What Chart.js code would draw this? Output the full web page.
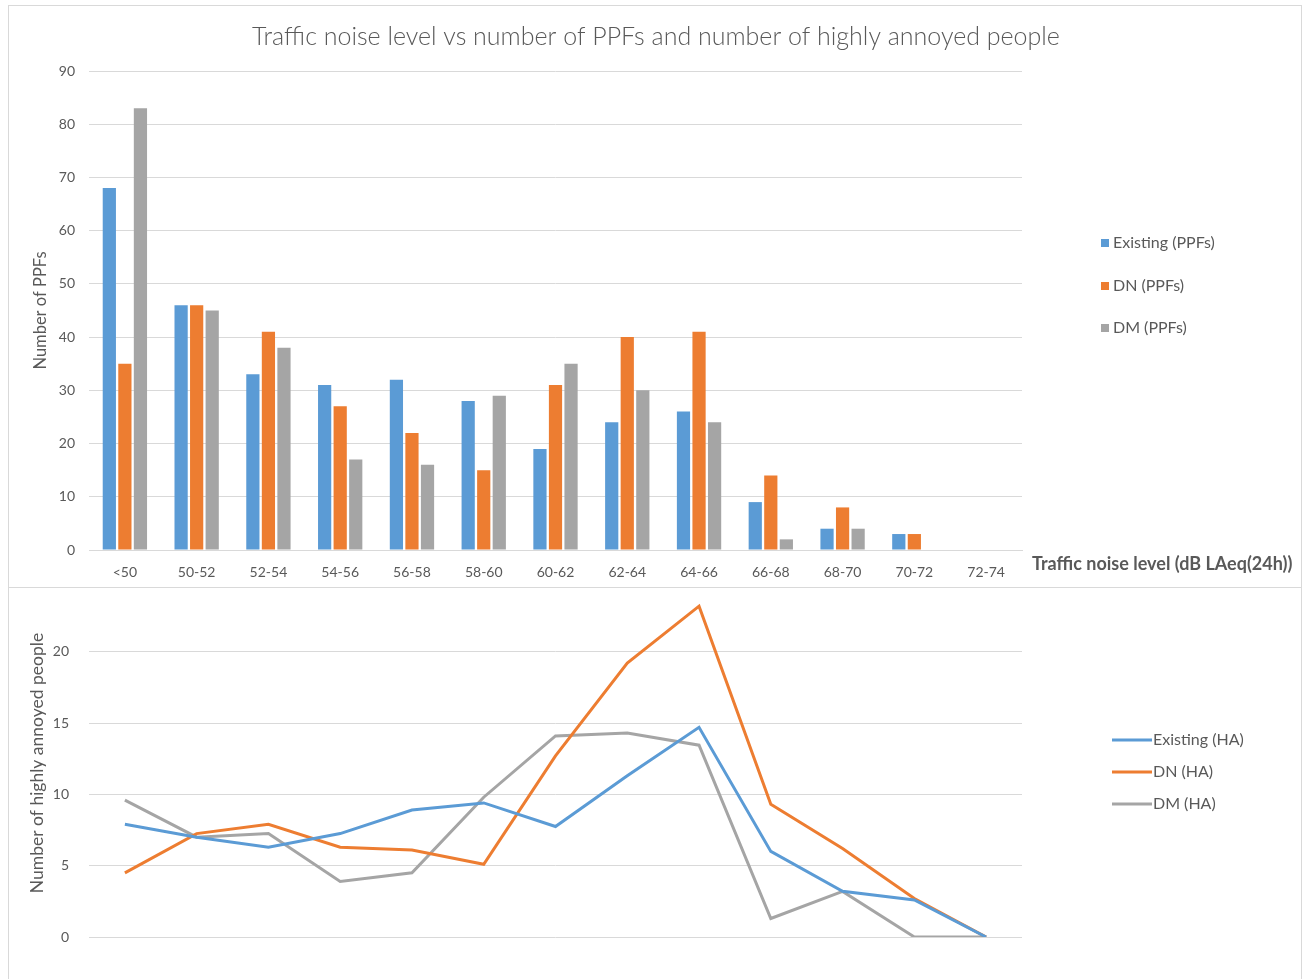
<!DOCTYPE html>
<html><head><meta charset="utf-8">
<script src="https://cdn.jsdelivr.net/npm/chart.js@4"></script>
<style>
html,body{margin:0;padding:0;background:#fff;}
body{width:1311px;height:979px;position:relative;overflow:hidden;font-family:Lato,sans-serif;}
#w1{position:absolute;left:0;top:0;width:1311px;height:586px;}
#w2{position:absolute;left:0;top:589px;width:1311px;height:390px;}
.fr{position:absolute;background:#d9d9d9;}
</style></head>
<body>
<div class="fr" style="left:8px;top:5px;width:1294px;height:1px;"></div>
<div class="fr" style="left:8px;top:5px;width:1px;height:974px;"></div>
<div class="fr" style="left:1301px;top:5px;width:1px;height:974px;"></div>
<div class="fr" style="left:8px;top:587px;width:1294px;height:1px;"></div>
<div id="w1"><canvas id="c1"></canvas></div>
<div id="w2"><canvas id="c2"></canvas></div>
<script>
const categories = ['<50','50-52','52-54','54-56','56-58','58-60','60-62','62-64','64-66','66-68','68-70','70-72','72-74'];
const existingPPF = [68,46,33,31,32,28,19,24,26,9,4,3,0];
const dnPPF       = [35,46,41,27,22,15,31,40,41,14,8,3,0];
const dmPPF       = [83,45,38,17,16,29,35,30,24,2,4,0,0];
const existingHA = [7.9,7.0,6.3,7.25,8.9,9.4,7.75,11.3,14.7,6.0,3.2,2.6,0];
const dnHA       = [4.5,7.25,7.9,6.3,6.1,5.1,12.7,19.2,23.2,9.3,6.2,2.7,0];
const dmHA       = [9.6,7.0,7.25,3.9,4.5,9.8,14.1,14.3,13.45,1.3,3.2,0,0];
const ppfTicks = [0,10,20,30,40,50,60,70,80,90];
const haTicks = [0,5,10,15,20];

const BLUE='#5B9BD5', ORANGE='#ED7D31', GRAY='#A5A5A5';
const TXT='#595959', GRID='#D9D9D9';
Chart.defaults.font.family = 'Lato, sans-serif';
Chart.defaults.color = TXT;

const topDecor = {
  id:'topDecor',
  afterDraw(chart){
    const ctx = chart.ctx;
    ctx.save();
    ctx.fillStyle = TXT;
    ctx.textAlign='center'; ctx.textBaseline='middle';
    ctx.font = '300 25px Lato, sans-serif';
    ctx.fillText('Traffic noise level vs number of PPFs and number of highly annoyed people', 656, 37);
    ctx.textAlign='left';
    ctx.font = 'bold 18px Lato, sans-serif';
    ctx.fillText('Traffic noise level (dB LAeq(24h))', 1032, 564);
    ctx.font = '16px Lato, sans-serif';
    const ys=[243,286,328];
    chart.data.datasets.forEach((d,i)=>{
      ctx.fillStyle=d.backgroundColor;
      ctx.fillRect(1101, ys[i]-4, 8, 8);
      ctx.fillStyle=TXT;
      ctx.fillText(d.label, 1113, ys[i]);
    });
    ctx.restore();
  }
};
const botDecor = {
  id:'botDecor',
  afterDraw(chart){
    const ctx = chart.ctx;
    ctx.save();
    ctx.font = '16px Lato, sans-serif';
    ctx.textAlign='left'; ctx.textBaseline='middle';
    const ys=[740-589,772-589,804-589];
    chart.data.datasets.forEach((d,i)=>{
      ctx.strokeStyle=d.borderColor; ctx.lineWidth=3;
      ctx.beginPath(); ctx.moveTo(1112, ys[i]); ctx.lineTo(1152, ys[i]); ctx.stroke();
      ctx.fillStyle=TXT;
      ctx.fillText(d.label, 1153, ys[i]);
    });
    ctx.restore();
  }
};

new Chart(document.getElementById('c1'), {
  type:'bar',
  data:{labels:categories, datasets:[
    {label:'Existing (PPFs)', data:existingPPF, backgroundColor:BLUE},
    {label:'DN (PPFs)', data:dnPPF, backgroundColor:ORANGE},
    {label:'DM (PPFs)', data:dmPPF, backgroundColor:GRAY}
  ]},
  options:{
    responsive:true, maintainAspectRatio:false, animation:false,
    datasets:{bar:{categoryPercentage:0.65, barPercentage:0.85}},
    layout:{padding:{left:0,right:289,top:71,bottom:0}},
    plugins:{legend:{display:false}, tooltip:{enabled:false}},
    scales:{
      x:{grid:{display:false}, border:{color:GRID},
         ticks:{font:{size:14}, padding:6, color:TXT, maxRotation:0, autoSkip:false},
         afterFit(s){s.height=36;}},
      y:{min:0,max:90, afterBuildTicks(s){s.ticks=ppfTicks.map(v=>({value:v}));},
         grid:{color:GRID, drawTicks:false}, border:{display:false},
         ticks:{font:{size:14}, padding:14, color:TXT},
         title:{display:true, text:'Number of PPFs', font:{size:16.5}, color:TXT, padding:{top:31,bottom:0}},
         afterFit(s){s.width=89;}}
    }
  },
  plugins:[topDecor]
});

new Chart(document.getElementById('c2'), {
  type:'line',
  data:{labels:categories, datasets:[
    {label:'Existing (HA)', data:existingHA, borderColor:BLUE, backgroundColor:BLUE},
    {label:'DN (HA)', data:dnHA, borderColor:ORANGE, backgroundColor:ORANGE},
    {label:'DM (HA)', data:dmHA, borderColor:GRAY, backgroundColor:GRAY}
  ]},
  options:{
    responsive:true, maintainAspectRatio:false, animation:false,
    elements:{line:{borderWidth:3, tension:0}, point:{radius:0}},
    layout:{padding:{left:0,right:289,top:0,bottom:0}},
    plugins:{legend:{display:false}, tooltip:{enabled:false}},
    scales:{
      x:{offset:true, grid:{display:false}, border:{display:false}, ticks:{display:false},
         afterFit(s){s.height=42;}},
      y:{min:0,max:24.4, afterBuildTicks(s){s.ticks=haTicks.map(v=>({value:v}));},
         grid:{color:GRID, drawTicks:false}, border:{display:false},
         ticks:{font:{size:14}, padding:20, color:TXT},
         title:{display:true, text:'Number of highly annoyed people', font:{size:17.5}, color:TXT, padding:{top:27,bottom:0}},
         afterFit(s){s.width=89; s.paddingTop=0; s.paddingBottom=0;}}
    }
  },
  plugins:[botDecor]
});
</script>
</body></html>
